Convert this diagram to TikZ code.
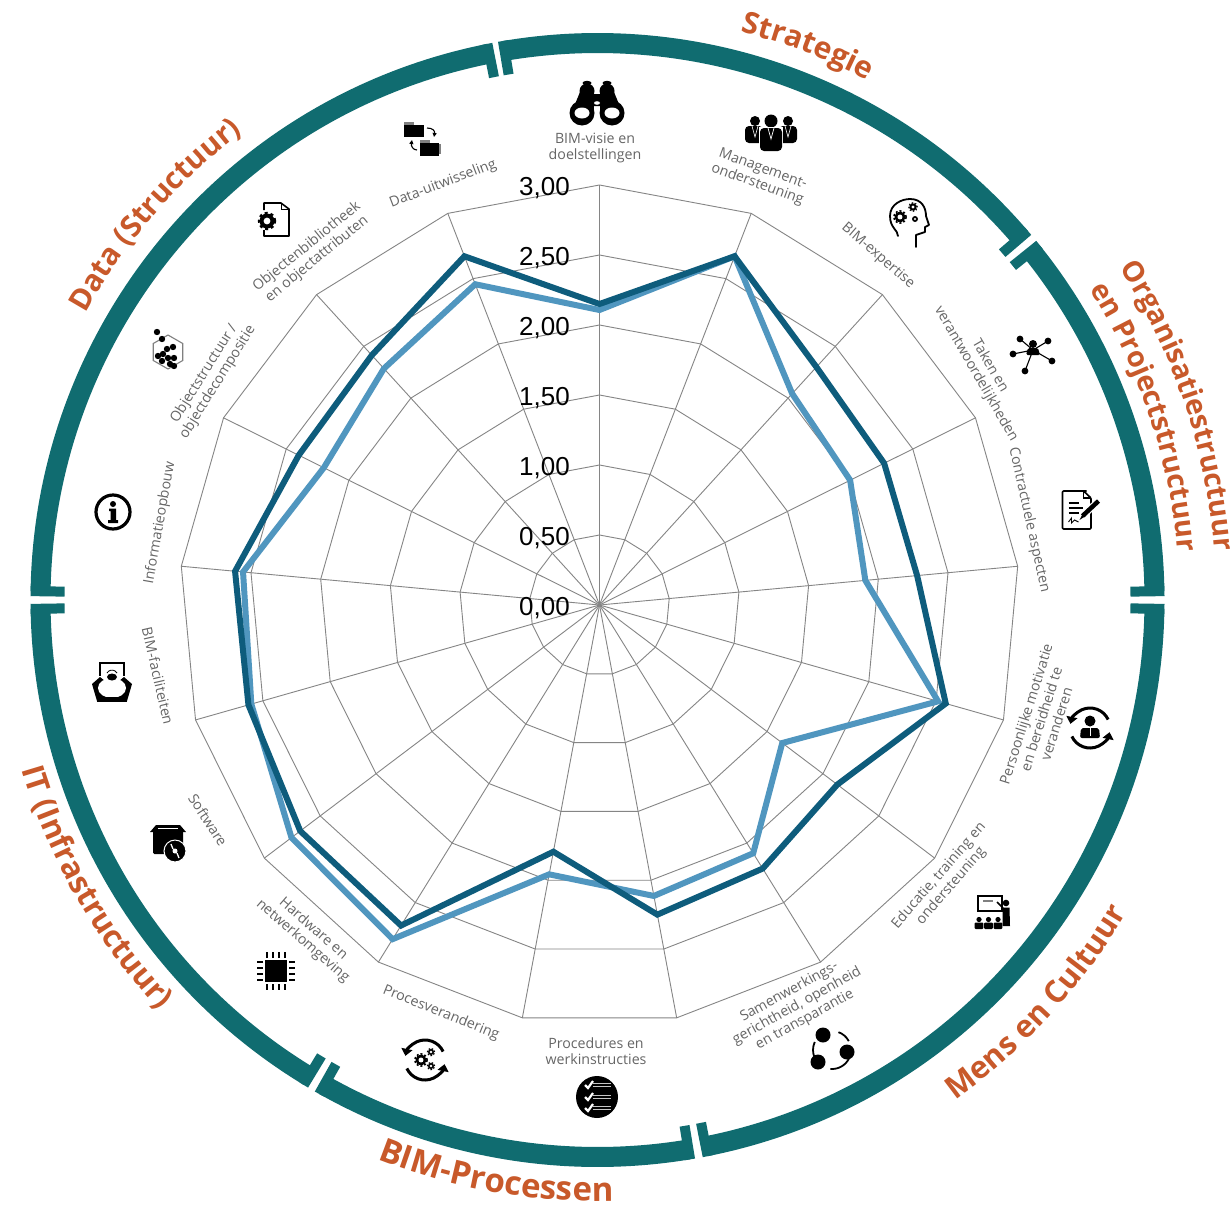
\documentclass[tikz,border=0pt]{standalone}
\usepackage{fontspec}
\setmainfont{Open Sans}
\newfontfamily\tickfont{Liberation Sans}
\usetikzlibrary{decorations.text,arrows.meta}
\definecolor{ringc}{HTML}{106C70}
\definecolor{catc}{HTML}{C8592A}
\definecolor{darkc}{HTML}{0E5C7C}
\definecolor{lightc}{HTML}{5096BF}
\definecolor{gridc}{HTML}{858585}
\definecolor{lblc}{HTML}{666666}
\newcommand\ringseg[2]{%
  \draw[ringarc] (#1:557) arc (#1:#2:557pt);
  \draw[ringtick] (#1:567) -- (#1:533);
  \draw[ringtick] (#2:567) -- (#2:533);}
\newcommand\gearmark[3]{%
  \fill (#1) circle (#2);
  \draw[line width=#3*0.75pt,dash pattern=on #3pt off #3pt] (#1) circle (#2+0.6);
  \fill[white] (#1) circle (#2*0.45);}
\newcommand\cattext[5]{% radius, start, end, text, size
  \path[decorate,decoration={text along path,text align=center,text={|\fontsize{#5}{#5}\selectfont\bfseries\color{catc}|#4}}] (#2:#1) arc (#2:#3:#1pt);}
\tikzset{
  x=1pt,y=1pt,
  ringarc/.style={draw=ringc,line width=20pt},
  ringtick/.style={draw=ringc,line width=10pt},
  gridline/.style={draw=gridc,line width=0.9pt},
  serieda/.style={draw=darkc,line width=6pt,line join=miter},
  seriela/.style={draw=lightc,line width=6pt,line join=miter},
  ticklbl/.style={anchor=east,inner sep=0pt,font=\tickfont\fontsize{26}{26}\selectfont,text=black},
  axislbl/.style={inner sep=0pt,align=center,text=lblc,font=\fontsize{14.2}{16}\selectfont},
  thinicon/.style={draw=black,line width=1.8pt,fill=none},
  turn/.style={draw=black,line width=3pt,-{Triangle[length=7pt,width=11pt]}},
}
\begin{document}
\begin{tikzpicture}
\useasboundingbox (0,-1205) rectangle (1232,0);
\fill[white] (0,-1205) rectangle (1232,0);

% outer ring
\begin{scope}[shift={(597.5,-600)}]
  \ringseg{99.6}{40.6}
  \ringseg{38.8}{0.9}
  \ringseg{-0.9}{-78.8}
  \ringseg{-80.6}{-119.4}
  \ringseg{-121.2}{-179.1}
  \ringseg{179.1}{101.2}
  \cattext{586}{99.2}{39.2}{Strategie}{30}
  \cattext{619}{45}{-8}{Organisatiestructuur}{28.5}
  \cattext{582}{45}{-8}{en Projectstructuur}{28.5}
  \cattext{615}{-85}{0}{Mens en Cultuur}{31}
  \cattext{601}{-130}{-70}{BIM-Processen}{33}
  \cattext{600}{-190}{-110.5}{IT (Infrastructuur)}{31}
  \cattext{587}{180}{98}{Data (Structuur)}{29.7}
\end{scope}

% radar
\begin{scope}[shift={(599.5,-605)}]
  \foreach \i in {0,...,16} \draw[gridline] (0,0) -- ({90-\i*360/17}:420);
  \foreach \r in {70,140,210,280,350,420}
    \draw[gridline] plot[samples=18,domain=0:17] ({90-\x*360/17}:\r);
  \foreach \v [count=\i from 0] in {295,374,286,280,267,352,229,292,296,274,393,386,362,358,308,320,344}
    \coordinate (la\i) at ({90-\i*360/17}:\v);
  \foreach \v [count=\i from 0] in {301,374,322,318,319,360,298,310,315,251,377,375,365,366,336,338,374}
    \coordinate (da\i) at ({90-\i*360/17}:\v);
  \draw[seriela] (la0)--(la1)--(la2)--(la3)--(la4)--(la5)--(la6)--(la7)--(la8)--(la9)--(la10)--(la11)--(la12)--(la13)--(la14)--(la15)--(la16)--cycle;
  \draw[serieda] (da0)--(da1)--(da2)--(da3)--(da4)--(da5)--(da6)--(da7)--(da8)--(da9)--(da10)--(da11)--(da12)--(da13)--(da14)--(da15)--(da16)--cycle;
\end{scope}

% scale labels
\node[ticklbl] (t0) at (570,-608) {0,00};
\node[ticklbl] (t1) at (570,-538) {0,50};
\node[ticklbl] (t2) at (570,-468) {1,00};
\node[ticklbl] (t3) at (570,-398) {1,50};
\node[ticklbl] (t4) at (570,-328) {2,00};
\node[ticklbl] (t5) at (570,-258) {2,50};
\node[ticklbl] (t6) at (570,-188) {3,00};

% axis labels
\node[axislbl] (a0) at (595,-148) {BIM-visie en\\doelstellingen};
\node[axislbl,rotate=-20] (a1) at (760,-177) {Management-\\ondersteuning};
\node[axislbl,rotate=-41] (a2) at (878,-256) {BIM-expertise};
\node[axislbl,rotate=-60] (a3) at (983,-370) {Taken en\\verantwoordelijkheden};
\node[axislbl,rotate=-77.5] (a4) at (1029,-520) {Contractuele aspecten};
\node[axislbl,rotate=72.5] (a5) at (1041,-719) {Persoonlijke motivatie\\en bereidheid te\\veranderen};
\node[axislbl,rotate=49] (a6) at (945,-881) {Educatie, training en\\ondersteuning};
\node[axislbl,rotate=29] (a7) at (797,-1006) {Samenwerkings-\\gerichtheid, openheid\\en transparantie};
\node[axislbl] (a8) at (596,-1051) {Procedures en\\werkinstructies};
\node[axislbl,rotate=-22] (a9) at (441,-1013) {Procesverandering};
\node[axislbl,rotate=-41] (a10) at (308,-935) {Hardware en\\netwerkomgeving};
\node[axislbl,rotate=-57] (a11) at (208,-820) {Software};
\node[axislbl,rotate=-77] (a12) at (158,-676) {BIM-faciliteiten};
\node[axislbl,rotate=80] (a13) at (160,-523) {Informatieopbouw};
\node[axislbl,rotate=58] (a14) at (211,-378) {Objectstructuur /\\objectdecompositie};
\node[axislbl,rotate=39] (a15) at (312,-253) {Objectenbibliotheek\\en objectattributen};
\node[axislbl,rotate=21] (a16) at (443,-184) {Data-uitwisseling};

% --- icons ---
% binoculars
\begin{scope}[shift={(597,-102)}]
  \fill (-15,-11) circle (12.5); \fill (15,-11) circle (12.5);
  \fill (-26,-12) -- (-17,10) -- (-4,10) -- (-3,-8) -- cycle;
  \fill (26,-12) -- (17,10) -- (4,10) -- (3,-8) -- cycle;
  \fill (-10,11) circle (7.5); \fill (10,11) circle (7.5);
  \fill (-10,19) ellipse (4.5 and 2.2); \fill (10,19) ellipse (4.5 and 2.2);
  \fill[rounded corners=1pt] (-6,-4) rectangle (6,8);
  \fill[white] (-15,-11) ellipse (7.5 and 5.5); \fill[white] (15,-11) ellipse (7.5 and 5.5);
  \fill[white] (0,-1) ellipse (3 and 1.8);
\end{scope}
% managers
\begin{scope}[shift={(771,-135)}]
  \fill (-16,14) circle (5); \fill (17,14) circle (5); \fill (0,14) circle (6.5);
  \fill[rounded corners=4pt] (-26,-8) rectangle (-8,9);
  \fill[rounded corners=4pt] (8,-8) rectangle (26,9);
  \fill[white] (-12,-12) rectangle (12,8);
  \fill[rounded corners=4pt] (-11,-16) rectangle (11,7);
  \draw[white,line width=0.7pt] (-3,7) -- (0,-4) -- (3,7);
  \draw[white,line width=0.6pt] (-19,9) -- (-16,-2) -- (-13,9);
  \draw[white,line width=0.6pt] (14,9) -- (17,-2) -- (20,9);
\end{scope}
% head with gears
\begin{scope}[shift={(910,-222)}]
  \draw[thinicon,line cap=round,line join=round] (-12,-14) .. controls (-12,-8) and (-20,-6) .. (-20,6) .. controls (-20,18) and (-8,23) .. (0,23) .. controls (12,23) and (16,14) .. (16,6) -- (19,-3) -- (15,-5) -- (15,-10) -- (6,-13) -- (6,-25);
  \gearmark{-10,5}{5.5}{2}
  \gearmark{3,15}{3.6}{1.6}
  \fill (5,3) circle (3); \fill[white] (5,3) circle (1.1);
\end{scope}
% network person
\begin{scope}[shift={(1033,-350)}]
  \foreach \px/\py in {-13/11,15/9,-20/-4,19/-11,-8/-21} {
    \draw[line width=1.1pt] (0,0) -- (\px,\py);
    \fill (\px,\py) circle (3.4);}
  \fill (0,6) circle (4);
  \fill[rounded corners=1.5pt] (-7,-5) -- (-5,2) -- (5,2) -- (7,-5) -- cycle;
\end{scope}
% document with pen
\begin{scope}[shift={(1076.5,-510)}]
  \draw[black,line width=1.6pt,line join=round,rounded corners=1pt] (10,19) -- (-14,19) -- (-14,-19) -- (14.5,-19) -- (14.5,12) -- (7,19);
  \draw[black,line width=1.3pt] (7,19) -- (7,12) -- (14.5,12);
  \draw[black,line width=1.2pt] (-8,7) -- (2,7) (-8,2) -- (6,2) (-8,-3) -- (2,-3);
  \draw[black,line width=0.9pt] (-8,-12) -- (-5,-8) -- (-5,-13) -- (-2,-10) -- (2,-12);
  \draw[white,line width=7pt] (22,9) -- (6,-6);
  \draw[black,line width=4.5pt] (22,9) -- (6,-6);
  \fill (6.5,-3) -- (3,-10) -- (9,-6) -- cycle;
\end{scope}
% person in turning arrows
\begin{scope}[shift={(1090,-728)}]
  \draw[turn] (25:20) arc (25:168:20pt);
  \draw[turn] (205:20) arc (205:348:20pt);
  \fill (0,7) circle (5.5);
  \fill[rounded corners=2pt] (-10,-10) -- (-9,0) -- (9,0) -- (10,-10) -- cycle;
  \draw[white,line width=1pt] (0,0) -- (0,-8);
\end{scope}
% teacher
\begin{scope}[shift={(993,-912)}]
  \draw[black,line width=2pt] (-15,16.5) rectangle (9,1);
  \draw[gray,line width=1.2pt] (-10,11) -- (0,11);
  \fill (13,9) circle (3.3);
  \fill (9.5,4.5) -- (16.5,4.5) -- (17,-14) -- (9.5,-14) -- cycle;
  \draw[line width=1.5pt] (10,4) -- (4,10);
  \foreach \q in {-14,-4.5,5} {\fill (\q,-7.5) circle (2.6); \fill[rounded corners=1pt] (\q-4.3,-17) rectangle (\q+4.3,-10.5);}
\end{scope}
% three circles
\begin{scope}[shift={(832,-1050)}]
  \draw[black,line width=1.8pt] (70:19) arc (70:28:19pt);
  \draw[black,line width=1.8pt] (-25:19) arc (-25:-95:19pt);
  \draw[black,line width=1.8pt] (155:19) arc (155:205:19pt);
  \fill (-9,15) circle (7.5); \fill (15,-2) circle (7.5); \fill (-14,-12) circle (7.5);
\end{scope}
% checklist
\begin{scope}[shift={(597,-1097)}]
  \fill (0,0) circle (21);
  \foreach \q in {12,0,-11} {
    \draw[gray!45,line width=1.8pt] (-4,\q+1.5) -- (14,\q+1.5) (-4,\q-1.5) -- (14,\q-1.5);
    \draw[white,line width=2.2pt] (-12,\q) -- (-9,\q-3) -- (-4,\q+4);}
\end{scope}
% process gears
\begin{scope}[shift={(425,-1060)}]
  \draw[turn] (25:20) arc (25:168:20pt);
  \draw[turn] (205:20) arc (205:348:20pt);
  \gearmark{-4,0}{5.5}{2}
  \gearmark{6,8}{3}{1.6}
  \gearmark{6,-6}{3}{1.6}
\end{scope}
% chip
\begin{scope}[shift={(276,-971)}]
  \fill (-11,-11) rectangle (11,11);
  \foreach \q in {-9,-3,3,9} {
    \draw[line width=2pt] (\q,13) -- (\q,19) (\q,-13) -- (\q,-19) (13,\q) -- (19,\q) (-13,\q) -- (-19,\q);}
\end{scope}
% box with disc
\begin{scope}[shift={(168,-840)}]
  \fill[rounded corners=1.5pt] (-15,-14) rectangle (15,10);
  \fill (-18,8) -- (-12,15) -- (12,15) -- (18,8) -- cycle;
  \draw[white,line width=1pt] (-10,12) -- (10,12);
  \draw[white,line width=1pt,fill=black] (7,-11) circle (11);
  \fill[white] (7,-11) circle (2.5);
  \draw[white,line width=1.3pt] (3,-4) -- (5,-9) (9,-13) -- (11,-18);
\end{scope}
% conference table
\begin{scope}[shift={(112,-682)}]
  \draw[black,line width=1.6pt] (-13,19) -- (13,19) (-12,19) -- (-12,6) (12,19) -- (12,6);
  \fill (-20,-2) -- (-12,5) -- (-2,-3) -- (-2,-19) -- (-15,-19) -- cycle;
  \fill (20,-2) -- (12,5) -- (2,-3) -- (2,-19) -- (15,-19) -- cycle;
  \fill[white] (0,-6) ellipse (14 and 10);
  \draw[black,line width=2.5pt] (-2,-17) -- (2,-17);
  \fill (0,5) ellipse (5 and 3.5);
  \draw[black,line width=0.8pt] (-5,9) arc (150:30:5.8pt);
  \fill (-15,-20) rectangle (15,-15);
\end{scope}
% information
\begin{scope}[shift={(113,-512)}]
  \draw[black,line width=3.2pt] (0,0) circle (17);
  \fill (0,8) circle (3);
  \fill (-4,3.5) -- (3,3.5) -- (3,-8) -- (5,-8) -- (5,-11) -- (-5,-11) -- (-5,-8) -- (-2.5,-8) -- (-2.5,1) -- (-4,1) -- cycle;
\end{scope}
% hexagon with dots
\begin{scope}[shift={(168,-352)}]
  \draw[gray,line width=1.1pt] (90:17) -- (30:17) -- (-30:17) -- (-90:17) -- (-150:17) -- (150:17) -- cycle;
  \foreach \px/\py in {-11/20,-6/13,-1/3,5/5,-5/-2,-10/-4,0/-6,-6/-9,2/-12,6/-6,6/-14} \fill (\px,\py) circle (3.2);
\end{scope}
% document with gear
\begin{scope}[shift={(276,-220)}]
  \draw[black,line width=1.6pt,line join=round] (-12,-10) -- (-12,-16) -- (13,-16) -- (13,11) -- (5,17) -- (-12,17) -- (-12,10);
  \draw[black,line width=1pt] (5,17) -- (5,11) -- (13,11);
  \gearmark{-9,-1}{7.5}{3}
\end{scope}
% folders
\begin{scope}[shift={(423,-138)}]
  \fill[gray] (-19,16) rectangle (-9,12);
  \fill (-19,1) rectangle (1,13);
  \fill[gray] (-3,-2) rectangle (7,-6);
  \fill[gray] (16,-6) rectangle (18,-16);
  \fill (-3,-18) rectangle (16,-5);
  \draw[black,line width=1.1pt,-{Triangle[length=4pt,width=4pt]}] (4,10) .. controls (10,10) and (12,7) .. (11,1);
  \draw[black,line width=1.1pt,-{Triangle[length=4pt,width=4pt]}] (-6,-12) .. controls (-10,-12) and (-12,-8) .. (-11,-2);
\end{scope}
\end{tikzpicture}
\end{document}
